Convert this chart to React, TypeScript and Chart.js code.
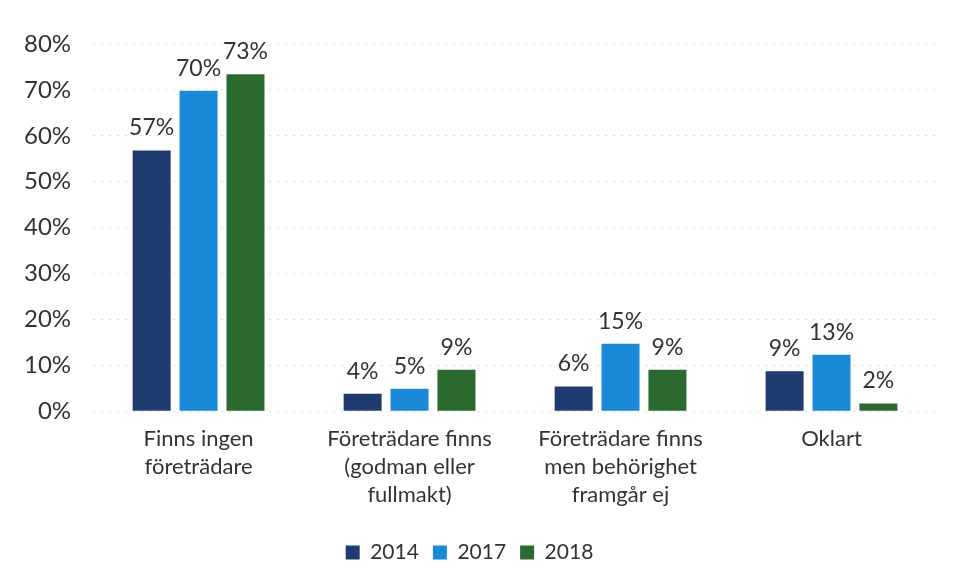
import React, { useEffect, useRef } from "react";
import { Chart, registerables } from "chart.js";

Chart.register(...registerables);

const categories: string[][] = [
  ["Finns ingen", "företrädare"],
  ["Företrädare finns", "(godman eller", "fullmakt)"],
  ["Företrädare finns", "men behörighet", "framgår ej"],
  ["Oklart"],
];
const seriesNames = ["2014", "2017", "2018"];
const values2014 = [56.8, 3.8, 5.4, 8.7];
const values2017 = [69.8, 4.9, 14.7, 12.3];
const values2018 = [73.4, 9.0, 9.0, 1.7];
const labels2014 = ["57%", "4%", "6%", "9%"];
const labels2017 = ["70%", "5%", "15%", "13%"];
const labels2018 = ["73%", "9%", "9%", "2%"];
const colors = ["#1f3a6e", "#1a8ad8", "#2a6a2e"];
const yTicks = [0, 10, 20, 30, 40, 50, 60, 70, 80];

const FONT = "Lato, 'Open Sans', sans-serif";

const valueLabelPlugin = {
  id: "valueLabels",
  afterDatasetsDraw(chart: any) {
    const ctx = chart.ctx;
    const allLabels = [labels2014, labels2017, labels2018];
    ctx.save();
    ctx.font = `23px ${FONT}`;
    ctx.fillStyle = "#333333";
    ctx.textAlign = "center";
    ctx.textBaseline = "bottom";
    chart.data.datasets.forEach((ds: any, di: number) => {
      const meta = chart.getDatasetMeta(di);
      meta.data.forEach((bar: any, i: number) => {
        ctx.fillText(allLabels[di][i], bar.x, bar.y - 11);
      });
    });
    ctx.restore();
  },
};

export default function App() {
  const ref = useRef<HTMLCanvasElement | null>(null);
  useEffect(() => {
    document.body.style.margin = "0";
    const data = [values2014, values2017, values2018];
    const chart = new Chart(ref.current as HTMLCanvasElement, {
      type: "bar",
      data: {
        labels: categories,
        datasets: seriesNames.map((n, i) => ({
          label: n,
          data: data[i],
          backgroundColor: colors[i],
          categoryPercentage: 0.667,
          barPercentage: 0.81,
        })),
      },
      options: {
        animation: false,
        responsive: false,
        maintainAspectRatio: false,
        layout: { padding: { top: 44, left: 2, right: 18, bottom: 8 } },
        scales: {
          y: {
            min: 0,
            max: 80,
            afterBuildTicks: (axis: any) => {
              axis.ticks = yTicks.map((v) => ({ value: v }));
            },
            ticks: {
              callback: (v: any) => v + "%",
              font: { family: FONT, size: 24 },
              color: "#333333",
              padding: 22,
            },
            grid: {
              color: "rgba(170,170,170,0.45)",
              drawTicks: false,
            },
            border: { display: false, dash: [2, 6] },
          },
          x: {
            afterFit: (axis: any) => {
              axis.height += 13;
            },
            ticks: {
              font: { family: FONT, size: 22, lineHeight: 1.27 },
              color: "#333333",
              padding: 6,
              maxRotation: 0,
            },
            grid: { display: false },
            border: { display: false },
          },
        },
        plugins: {
          legend: {
            position: "bottom",
            labels: {
              font: { family: FONT, size: 21 },
              color: "#333333",
              boxWidth: 14,
              boxHeight: 14,
              padding: 14,
            },
          },
          tooltip: { enabled: false },
        },
      },
      plugins: [valueLabelPlugin],
    } as any);
    return () => chart.destroy();
  }, []);
  return (
    <div style={{ width: 955, height: 581 }}>
      <canvas ref={ref} width={955} height={581} style={{ display: "block" }} />
    </div>
  );
}
